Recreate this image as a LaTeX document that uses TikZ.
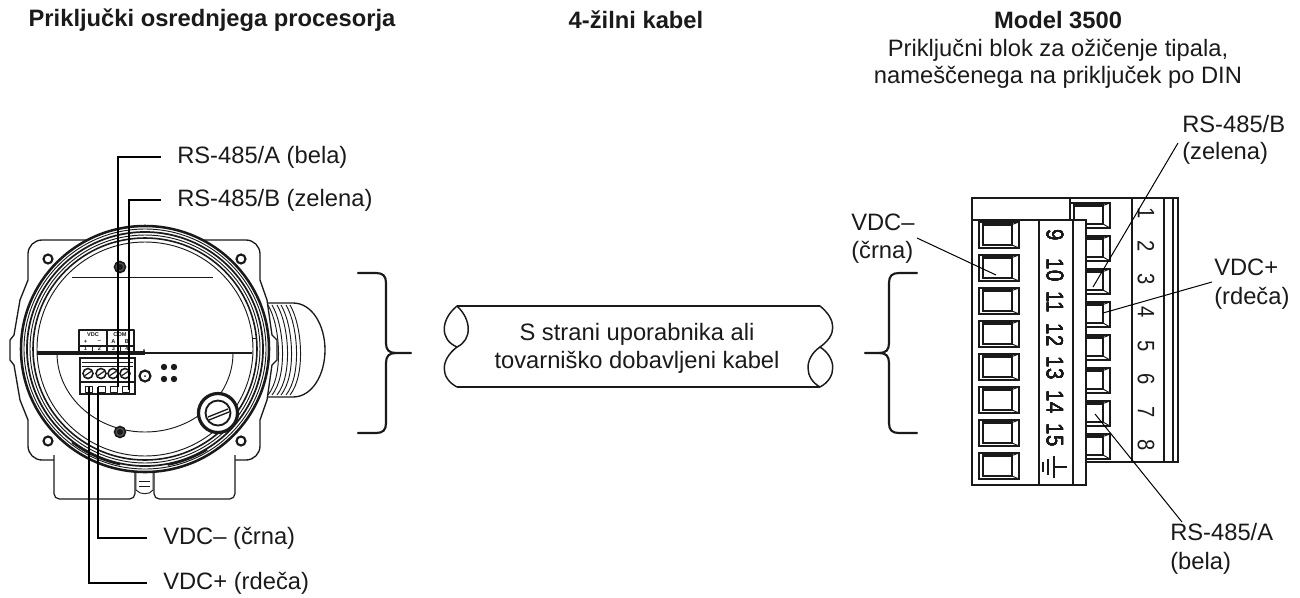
\documentclass[tikz,border=0pt]{standalone}
\usepackage{fontspec}
\setmainfont{Liberation Sans}
\definecolor{ink}{HTML}{1A1A1A}
\tikzset{
  lab/.style={font=\fontsize{17.8}{17.8}\selectfont,text=ink,inner sep=0pt},
  head/.style={font=\fontsize{17.8}{17.8}\selectfont\bfseries,text=ink,inner sep=0pt},
  lead/.style={draw=black,line width=1.5pt},
  thinlead/.style={draw=black,line width=0.75pt},
  brace/.style={draw=ink,line width=1.6pt,line cap=round},
  wire/.style={draw=ink,line width=0.7pt,line join=round},
  thk/.style={draw=ink,line width=1.6pt,line join=miter},
  nr/.style={font=\fontsize{17.8}{17.8}\selectfont,text=ink,inner sep=0pt,rotate=-90},
  tiny/.style={font=\fontsize{4.2}{4.2}\selectfont\bfseries,text=ink,inner sep=0pt},
}
\newcommand{\sqfront}[1]{%
  \draw[thk,fill=white] (979,#1) rectangle (1019,#1+26);
  \draw[thk] (983,#1+2.5) rectangle (1012,#1+23);
  \draw[wire] (1012,#1+2.5) -- (1019,#1) (1012,#1+23) -- (1019,#1+26);
}
\newcommand{\sqrear}[1]{%
  \draw[thk,fill=white] (1070,#1) rectangle (1110,#1+25);
  \draw[thk] (1074,#1+2.5) rectangle (1103,#1+21);
  \draw[wire] (1103,#1+2.5) -- (1110,#1) (1103,#1+21) -- (1110,#1+25);
}
\newcommand{\dg}[1]{\scalebox{0.85}[1]{#1}}
\begin{document}
\begin{tikzpicture}[x=0.75pt,y=-0.75pt]
\useasboundingbox (0,0) rectangle (1300,597);
% headers
\node[head] (h1) at (212,20) {Priključki osrednjega procesorja};
\node[head] (h2) at (636,20) {4-žilni kabel};
\node[head] (h3) at (1058,20) {Model 3500};
\node[lab] (s1) at (1058,50) {Priključni blok za ožičenje tipala,};
\node[lab] (s2) at (1058,77) {nameščenega na priključek po DIN};
% conduit
\draw[wire,line width=1pt,fill=white] (262,303) -- (293,303) .. controls (312,303) and (325,325) .. (325,350) .. controls (325,375) and (312,397) .. (293,397) -- (262,397) -- cycle;
\foreach \d in {0,4,9,13,18,22}
  \draw[wire] (268+\d,305) .. controls (280+\d,325) and (284+\d,375) .. (268+\d,395);
% body
\draw[wire,line width=1pt,fill=white] (28,280) -- (28,254) arc[start angle=180,end angle=270,radius=14] -- (246,240) arc[start angle=270,end angle=360,radius=14] -- (260,280) -- (267,300) -- (272,335) -- (277,340) -- (277,360) -- (272,365) -- (267,400) -- (260,420) -- (260,446) arc[start angle=0,end angle=90,radius=14] -- (42,460) arc[start angle=90,end angle=180,radius=14] -- (28,420) -- (20,400) -- (14,365) -- (10,360) -- (10,340) -- (14,335) -- (20,300) -- cycle;
% lower housing
\draw[wire,line width=0.9pt,fill=white,rounded corners=4pt] (54,455) -- (54,499) -- (135,499) -- (135,465);
\draw[wire,line width=0.9pt,fill=white,rounded corners=4pt] (154,465) -- (154,499) -- (235,499) -- (235,455);
\draw[wire,fill=white] (136,473) -- (136,490) .. controls (140,495) and (150,495) .. (153,490) -- (153,473);
\draw[wire] (139,481) -- (150,481) (139,486) -- (150,486);
% rings
\fill[white] (145,349) ellipse (124 and 123);
\draw[thk,line width=1.9pt] (145,349) ellipse (124 and 123);
\draw[wire] (145,349) ellipse (121 and 120);
\draw[thk,line width=1.3pt] (145,349) ellipse (118 and 117);
\draw[wire] (145,349) ellipse (115 and 114);
\draw[thk,line width=1.2pt] (145,349) ellipse (112 and 111);
\draw[wire] (145,349) ellipse (108 and 107);
\draw[thk] (72.1,442.2) arc[start angle=127.8,end angle=102,x radius=119,y radius=118];
\draw[thk] (167.7,464.8) arc[start angle=79,end angle=58.6,x radius=119,y radius=118];
% corner screws
\foreach \x/\y in {48/259,241/259,48/441,241/441}
  \draw[thk,fill=white] (\x,\y) circle (4.5);
% inner details
\draw[wire] (72,277) -- (213,277);
\draw[wire] (57,353) arc[start angle=180,end angle=0,x radius=88,y radius=79];
\draw[ink,line width=3pt] (37,353) -- (145,353);
\draw[ink,line width=2.2pt] (145,353) -- (252,353);
\draw[wire] (252,338) -- (256,338) -- (256,358);
\fill[ink] (144,350) circle (1);
% bolts
\foreach \y in {267,432}{
  \draw[thk,line width=1.2pt,fill=ink!75] (120,\y) circle (5.5);
  \fill[ink] (120,\y) circle (3);
}
% plug
\draw[thk,line width=2.4pt,fill=white] (218,413) circle (19.5);
\draw[thk,line width=1.4pt,fill=white] (218,413) circle (12.5);
\draw[wire,line width=1pt] (208,417) -- (228,409) (209,420) -- (229,412);
% label box
\draw[wire,line width=0.9pt] (79,352) -- (79,330) -- (134,330) -- (134,352) (107,330) -- (107,352) (79,346) -- (134,346)
  (92.5,346) -- (92.5,352) (120.5,346) -- (120.5,352);
\node[tiny] (tv) at (93,335) {VDC};
\node[tiny] (tc) at (120,335) {COM};
\node[tiny] (tp) at (85.5,342) {+};
\node[tiny] (tm) at (99.5,342) {–};
\node[tiny] (ta) at (113.5,342) {A};
\node[tiny] (tb) at (127,342) {B};
\node[tiny] (t1) at (85.5,349) {1};
\node[tiny] (t2) at (99.5,349) {2};
\node[tiny] (t3) at (113.5,349) {3};
\node[tiny] (t4) at (127,349) {4};
% terminal block
\draw[thk,fill=white] (80,358) rectangle (135,394);
\draw[wire] (82,362) -- (133,362) (82,366) -- (133,366);
\draw[ink,line width=1.6pt] (81,382) -- (134,382);
\foreach \x in {88,101,113,125}{
  \draw[ink,line width=1.2pt,fill=white] (\x,373.5) circle (5);
  \draw[ink,line width=0.9pt] (\x-3,375.5) -- (\x+3,371.5);
}
\foreach \x in {85,98,110,122}
  \draw[wire] (\x,386) rectangle (\x+7,392);
% small screw and dots
\draw[thk,fill=white] (145,376) circle (5.5);
\fill[ink] (145,376) circle (1);
\foreach \x/\y in {164/367,174/367,164/379,174/379}
  \fill[ink] (\x,\y) circle (3.2);
% leaders left
\coordinate (la) at (118,387);
\coordinate (lb) at (129,390);
\coordinate (lm) at (98,387);
\coordinate (lp) at (89,387);
\node[lab,anchor=west] (ra) at (177,157) {RS-485/A (bela)};
\node[lab,anchor=west] (rb) at (177,200) {RS-485/B (zelena)};
\node[lab,anchor=west] (vm) at (163,538) {VDC– (črna)};
\node[lab,anchor=west] (vp) at (163,583) {VDC+ (rdeča)};
\draw[lead] (la) |- ([xshift=-12pt]ra.west);
\draw[lead] (lb) |- ([xshift=-12pt]rb.west);
\draw[lead] (lm) |- ([xshift=-12pt]vm.west);
\draw[lead] (lp) |- ([xshift=-12pt]vp.west);
% braces
\coordinate (lbt) at (358,273);
\coordinate (lbb) at (358,433);
\coordinate (lbm) at (411,353);
\draw[brace] (lbt) -- (376,273) .. controls (383,273) and (386,276) .. (386,283) -- (386,343) .. controls (386,350) and (389,353) .. (396,353) -- (lbm);
\draw[brace] (lbb) -- (376,433) .. controls (383,433) and (386,430) .. (386,423) -- (386,363) .. controls (386,356) and (389,353) .. (396,353);
\coordinate (rbt) at (917,273);
\coordinate (rbb) at (917,433);
\coordinate (rbm) at (865,353);
\draw[brace] (rbt) -- (899,273) .. controls (892,273) and (889,276) .. (889,283) -- (889,343) .. controls (889,350) and (886,353) .. (879,353) -- (rbm);
\draw[brace] (rbb) -- (899,433) .. controls (892,433) and (889,430) .. (889,423) -- (889,363) .. controls (889,356) and (886,353) .. (879,353);
% cable
\draw[wire,line width=1.1pt] (457,306) -- (820,306) (457,387) -- (820,387);
\draw[wire,line width=1.1pt] (457,306) .. controls (440,320) and (440,340) .. (457,347) .. controls (440,360) and (440,378) .. (457,387);
\draw[wire,line width=1.1pt] (457,306) .. controls (472,320) and (472,340) .. (457,347);
\draw[wire,line width=1.1pt] (820,306) .. controls (837,320) and (837,335) .. (820,347) .. controls (837,358) and (837,378) .. (820,387);
\draw[wire,line width=1.1pt] (820,347) .. controls (804,358) and (804,378) .. (820,387);
\node[lab] (c1) at (637,334) {S strani uporabnika ali};
\node[lab] (c2) at (637,362) {tovarniško dobavljeni kabel};
% right connector: rear block
\draw[thk,fill=white] (972,198) rectangle (1178,462);
\draw[thk] (1132,198) -- (1132,462) (1164,198) -- (1164,462) (1173,198) -- (1173,462);
\foreach \y in {203,236,269,302,335,368,401,434} \sqrear{\y}
% front block
\draw[thk,fill=white] (972,220) rectangle (1086,485);
\draw[thk] (1039,220) -- (1039,485) (1073,220) -- (1073,485);
\draw[thk] (1070,198) -- (1070,220);
\foreach \y in {222,255,288,321,354,387,420,453} \sqfront{\y}
% numbers
\foreach \n/\y in {9/235,10/270,11/302,12/335,13/368,14/402,15/435}
  \node[nr] (fn\n) at (1055,\y) {\dg{\n}};
\foreach \n/\y in {1/213,2/246,3/279,4/312,5/346,6/379,7/412,8/445}
  \node[nr] (bn\n) at (1146,\y) {\dg{\n}};
% ground
\draw[thk] (1067,467) -- (1054,467) (1054,456) -- (1054,478) (1048,459) -- (1048,475) (1043,462) -- (1043,472);
% right labels
\node[lab,anchor=west] (rb1) at (1182,124) {RS-485/B};
\node[lab,anchor=west] (rb2) at (1182,153) {(zelena)};
\node[lab,anchor=west] (rp1) at (1214,267) {VDC+};
\node[lab,anchor=west] (rp2) at (1214,298) {(rdeča)};
\node[lab,anchor=west] (rm1) at (851,222) {VDC–};
\node[lab,anchor=west] (rm2) at (851,252) {(črna)};
\node[lab,anchor=west] (ra1) at (1170,532) {RS-485/A};
\node[lab,anchor=west] (ra2) at (1170,563) {(bela)};
\coordinate (eb) at (1093,287);
\coordinate (ep) at (1103,313);
\coordinate (em) at (996,275);
\coordinate (ea) at (1095,414);
\draw[thinlead] (1178,143) coordinate (sb) -- (eb);
\draw[thinlead] (1212,282) coordinate (sp) -- (ep);
\draw[thinlead] (917,238) coordinate (sm) -- (em);
\draw[thinlead] (1182,522) coordinate (sa) -- (ea);
\end{tikzpicture}
\end{document}
